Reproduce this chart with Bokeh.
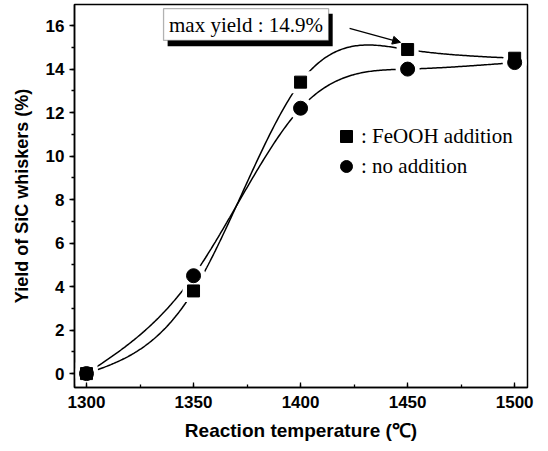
import numpy as np
from bokeh.plotting import figure
from bokeh.models import (Range1d, SingleIntervalTicker, BoxAnnotation, Label, Arrow,
                          NormalHead, Legend, LegendItem)
from bokeh.embed import file_html
from bokeh.resources import INLINE

# ---- data ----
temperature = [1300, 1350, 1400, 1450, 1500]
yield_feooh = [0.0, 3.8, 13.4, 14.9, 14.5]
yield_none = [0.0, 4.5, 12.2, 14.0, 14.3]
label_feooh = ": FeOOH addition"
label_none = ": no addition"


def natural_spline(x, y, n=300):
    x = np.asarray(x, float)
    y = np.asarray(y, float)
    h = np.diff(x)
    m = len(x)
    A = np.zeros((m, m))
    b = np.zeros(m)
    A[0, 0] = 1
    A[-1, -1] = 1
    for i in range(1, m - 1):
        A[i, i - 1] = h[i - 1]
        A[i, i] = 2 * (h[i - 1] + h[i])
        A[i, i + 1] = h[i]
        b[i] = 3 * ((y[i + 1] - y[i]) / h[i] - (y[i] - y[i - 1]) / h[i - 1])
    c = np.linalg.solve(A, b)
    xs = np.linspace(x[0], x[-1], n)
    idx = np.clip(np.searchsorted(x, xs) - 1, 0, m - 2)
    dx = xs - x[idx]
    bc = (y[1:] - y[:-1]) / h - h * (2 * c[:-1] + c[1:]) / 3
    d = (c[1:] - c[:-1]) / (3 * h)
    ys = y[idx] + bc[idx] * dx + c[idx] * dx ** 2 + d[idx] * dx ** 3
    return xs, ys


p = figure(width=540, height=445, output_backend="svg", toolbar_location=None,
           x_range=Range1d(1294.4, 1506), y_range=Range1d(-0.64, 16.97),
           min_border_left=74, min_border_right=13, min_border_top=4, min_border_bottom=58)
p.xgrid.visible = False
p.ygrid.visible = False
p.outline_line_color = "black"
p.outline_line_width = 1.5
p.background_fill_color = "white"
p.border_fill_color = "white"

sans = "Liberation Sans"
serif = "Liberation Serif"

# axes
p.xaxis.ticker = SingleIntervalTicker(interval=50, num_minor_ticks=2)
p.yaxis.ticker = SingleIntervalTicker(interval=2, num_minor_ticks=2)
for ax in (p.xaxis[0], p.yaxis[0]):
    ax.axis_line_width = 1.5
    ax.major_tick_line_width = 1.3
    ax.minor_tick_line_width = 1.3
    ax.major_label_text_font = sans
    ax.major_label_text_font_style = "bold"
    ax.major_label_text_font_size = "17px"
    ax.major_label_text_color = "black"
    ax.axis_label_text_font = sans
    ax.axis_label_text_font_style = "bold"
    ax.axis_label_text_color = "black"

p.xaxis.major_tick_in = 5
p.xaxis.major_tick_out = 0
p.xaxis.minor_tick_in = 3
p.xaxis.minor_tick_out = 0
p.xaxis.major_label_standoff = 8
p.xaxis.axis_label_standoff = 9
p.xaxis.axis_label_text_font_size = "19px"
p.xaxis.axis_label = "Reaction temperature (\u2103)"

p.yaxis.major_tick_in = 0
p.yaxis.major_tick_out = 5
p.yaxis.minor_tick_in = 0
p.yaxis.minor_tick_out = 3
p.yaxis.major_label_standoff = 5
p.yaxis.axis_label_standoff = 11
p.yaxis.axis_label_text_font_size = "18px"
p.yaxis.axis_label = "Yield of SiC whiskers (%)"

# curves
xs1, ys1 = natural_spline(temperature, yield_feooh)
xs2, ys2 = natural_spline(temperature, yield_none)
p.line(xs1, ys1, line_color="black", line_width=1.5)
p.line(xs2, ys2, line_color="black", line_width=1.5)

# white halos to create gaps around markers
p.scatter(temperature, yield_feooh, marker="square", size=22, fill_color="white", line_color=None)
p.scatter(temperature, yield_none, marker="circle", size=24, fill_color="white", line_color=None)

r_sq = p.scatter(temperature, yield_feooh, marker="square", size=12,
                 fill_color="black", line_color="black")
r_ci = p.scatter(temperature, yield_none, marker="circle", size=14,
                 fill_color="black", line_color="black")

# legend
legend = Legend(items=[LegendItem(label=label_feooh, renderers=[r_sq]),
                       LegendItem(label=label_none, renderers=[r_ci])],
                location=(257, 206), orientation="vertical",
                glyph_width=30, glyph_height=30, label_standoff=0, spacing=0,
                padding=0, margin=0, border_line_color=None, background_fill_alpha=0,
                label_text_font=serif, label_text_font_size="21px", label_text_color="black",
                label_height=30)
p.add_layout(legend, "center")

# annotation box with shadow
i_max = int(np.argmax(yield_feooh))
x_max = temperature[i_max]
y_max = yield_feooh[i_max]
p.add_layout(BoxAnnotation(left=1337.9, right=1415.0, top=16.55, bottom=15.05,
                           fill_color="black", fill_alpha=1, line_color=None, level="annotation"))
p.add_layout(BoxAnnotation(left=1336.0, right=1413.1, top=16.78, bottom=15.32,
                           fill_color="white", fill_alpha=1, line_color="black",
                           line_width=1.3, level="annotation"))
p.add_layout(Label(x=1374.5, y=16.05, text=f"max yield : {y_max:.1f}%",
                   text_font=serif, text_font_size="21px", text_color="black",
                   text_align="center", text_baseline="middle"))

p.add_layout(Arrow(end=NormalHead(size=8, fill_color="black", line_color="black"),
                   x_start=1422.9, y_start=15.87, x_end=x_max - 3.3, y_end=y_max + 0.33,
                   line_color="black", line_width=1.2))

open("out.html", "w").write(file_html(p, INLINE))
